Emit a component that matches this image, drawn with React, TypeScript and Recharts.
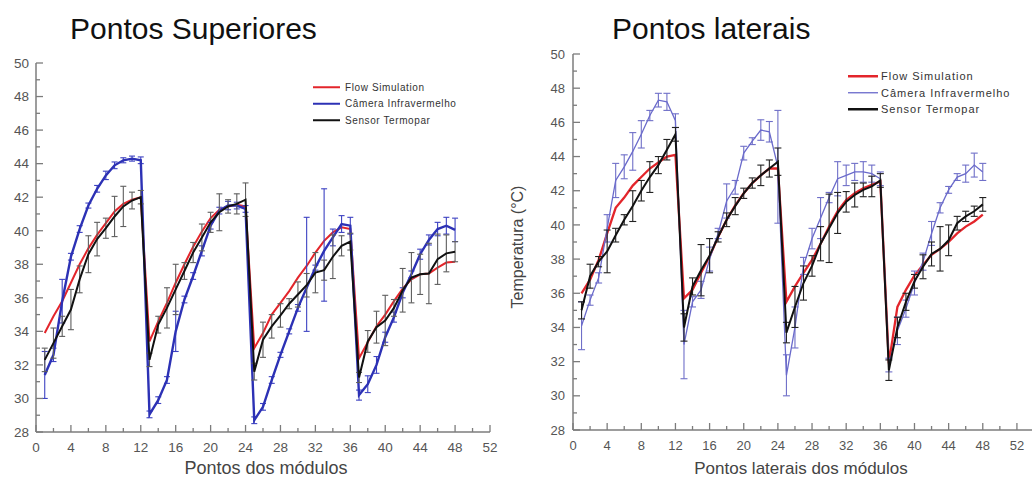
import { LineChart, Line, XAxis, YAxis, ErrorBar, Legend } from "recharts"

// pontos dos módulos (eixo x)
const pontos = [
  1, 2, 3, 4, 5, 6, 7, 8, 9, 10, 11, 12,
  13, 14, 15, 16, 17, 18, 19, 20, 21, 22, 23, 24,
  25, 26, 27, 28, 29, 30, 31, 32, 33, 34, 35, 36,
  37, 38, 39, 40, 41, 42, 43, 44, 45, 46, 47, 48,
]
const ticksX = [0, 2, 4, 6, 8, 10, 12, 14, 16, 18, 20, 22, 24, 26, 28, 30, 32, 34, 36, 38, 40, 42, 44, 46, 48, 50, 52]
const ticksY = [28, 29, 30, 31, 32, 33, 34, 35, 36, 37, 38, 39, 40, 41, 42, 43, 44, 45, 46, 47, 48, 49, 50]

// Pontos Superiores
const supFlow = [
  33.9, 34.9, 35.8, 36.9, 38.0, 38.95, 39.75, 40.45, 41.15, 41.6, 41.85, 42.0,
  33.4, 34.6, 35.7, 36.9, 38.0, 39.05, 39.95, 40.75, 41.25, 41.45, 41.55, 41.45,
  33.0, 33.9, 35.0, 35.7, 36.4, 37.2, 37.9, 38.7, 39.4, 39.9, 40.2, 40.1,
  32.4, 33.35, 34.3, 35.0, 35.8, 36.55, 37.1, 37.4, 37.45, 37.8, 38.1, 38.15,
]
const supCamera = [
  31.4, 32.6, 35.8, 38.45, 40.1, 41.5, 42.5, 43.3, 43.9, 44.2, 44.3, 44.2,
  29.05, 29.9, 31.1, 34.0, 35.9, 37.3, 38.8, 40.3, 41.2, 41.5, 41.5, 41.3,
  28.7, 29.5, 31.1, 32.6, 34.0, 35.4, 36.6, 37.8, 38.8, 39.6, 40.4, 40.3,
  30.2, 30.85, 32.0, 33.65, 34.85, 36.3, 37.4, 38.6, 39.45, 40.1, 40.3, 40.05,
]
const supCameraErr: (number | [number, number])[] = [
  1.4, 0.4, 1.3, 0.2, 0.2, 0.15, 0.2, 0.25, 0.2, 0.15, 0.15, 0.2,
  0.2, 0.2, 0.2, 1.2, 0.2, 0.2, 0.3, 0.2, 0.2, 0.25, 0.2, 0.2,
  0.2, 0.2, 0.2, 0.15, 0.15, 0.2, [2.6, 4.2], 0.15, [3.0, 3.7], 0.5, 0.5, 0.5,
  0.3, 0.5, 0.5, 0.3, 0.3, 0.3, 0.2, 0.3, 0.3, 0.4, 0.5, 0.7,
]
const supSensor = [
  32.3, 33.3, 34.3, 35.3, 37.1, 38.6, 39.5, 40.15, 40.85, 41.45, 41.8, 42.0,
  32.3, 34.4, 35.4, 36.5, 37.6, 38.7, 39.6, 40.5, 41.1, 41.45, 41.6, 41.85,
  31.6, 33.5, 34.3, 34.95, 35.65, 36.2, 36.75, 37.5, 37.65, 38.45, 39.1, 39.35,
  31.25, 33.4, 34.25, 34.65, 35.4, 36.45, 37.2, 37.4, 37.45, 38.3, 38.65, 38.75,
]
const supSensorErr = [
  0.7, 0.9, 0.6, 1.2, 0.8, 1.1, 1.0, 0.6, 1.2, 1.2, 0.5, 0.4,
  0.4, 0.5, 1.2, 1.5, 0.5, 0.6, 0.8, 0.6, 1.1, 0.4, 0.6, 1.0,
  0.5, 1.05, 0.7, 0.7, 0.3, 0.75, 0.7, 1.2, 0.6, 1.3, 0.6, 0.5,
  0.3, 0.65, 0.95, 1.5, 0.5, 1.3, 1.5, 1.2, 1.8, 1.5, 1.1, 0.6,
]

// Pontos laterais
const latFlow = [
  36.0, 36.8, 37.95, 39.5, 41.0, 41.6, 42.3, 42.8, 43.3, 43.65, 44.0, 44.1,
  35.7, 36.2, 37.2, 38.15, 39.3, 40.3, 41.15, 41.85, 42.45, 42.9, 43.3, 43.3,
  35.5, 36.4, 37.2, 37.95, 38.9, 39.9, 40.8, 41.45, 41.85, 42.15, 42.35, 42.55,
  31.9, 35.2, 36.2, 37.05, 37.65, 38.25, 38.6, 39.0, 39.5, 39.9, 40.2, 40.6,
]
const latCamera = [
  34.1, 35.6, 36.9, 39.8, 42.6, 43.4, 44.3, 45.3, 46.4, 47.3, 47.2, 46.1,
  33.0, 35.5, 36.2, 38.0, 39.5, 41.4, 42.2, 44.2, 44.9, 45.55, 45.45, 43.4,
  31.2, 34.0, 37.6, 39.2, 40.4, 41.6, 42.7, 42.9, 43.1, 43.1, 43.0, 42.7,
  31.8, 33.8, 35.1, 36.6, 37.85, 39.5, 41.0, 42.05, 42.8, 43.0, 43.5, 43.1,
]
const latCameraErr = [
  1.4, 0.3, 0.3, 0.8, 1.0, 0.7, 1.1, 0.8, 0.3, 0.4, 0.5, 0.4,
  2.0, 0.3, 0.5, 0.7, 0.3, 1.0, 0.4, 0.4, 0.2, 0.6, 0.6, 3.3,
  1.2, 1.2, 0.5, 0.6, 1.2, 0.3, 1.0, 0.6, 0.5, 0.6, 0.5, 0.4,
  0.4, 0.8, 0.5, 0.7, 0.5, 0.7, 0.3, 0.2, 0.2, 0.5, 0.7, 0.5,
]
const latSensor = [
  35.0, 37.0, 37.85, 38.45, 39.4, 40.3, 41.1, 42.0, 42.8, 43.5, 44.4, 45.3,
  34.0, 36.4, 37.35, 38.2, 39.3, 40.3, 41.1, 41.85, 42.45, 42.9, 43.3, 43.7,
  33.7, 35.2, 36.6, 37.6, 38.9, 39.8, 40.7, 41.35, 41.75, 42.05, 42.25, 42.6,
  31.5, 34.0, 35.5, 36.7, 37.55, 38.3, 38.6, 39.1, 40.1, 40.5, 40.8, 41.2,
]
const latSensorErr = [
  0.5, 0.7, 0.3, 1.25, 0.4, 0.3, 0.9, 0.6, 0.9, 0.5, 0.6, 0.4,
  0.8, 0.5, 1.5, 1.0, 0.3, 0.4, 0.5, 0.3, 0.3, 0.6, 0.5, 0.8,
  0.6, 1.2, 1.0, 0.6, 1.0, 2.0, 1.2, 0.6, 0.7, 0.4, 0.6, 0.4,
  0.6, 0.6, 0.5, 0.4, 0.7, 0.7, 1.3, 0.9, 0.4, 0.3, 0.3, 0.4,
]

const seriesNames = ["Flow Simulation", "Câmera Infravermelho", "Sensor Termopar"]

const AXIS = "#7c7c7c"
const FONT = '"Liberation Sans", Arial, sans-serif'

function buildRows(flow: number[], camera: number[], cameraErr: any[], sensor: number[], sensorErr: number[]) {
  return pontos.map((p, i) => ({
    ponto: p,
    flow: flow[i],
    camera: camera[i],
    cameraErr: cameraErr[i],
    sensor: sensor[i],
    sensorErr: sensorErr[i],
  }))
}

// ticks apontando para dentro do gráfico
function BottomTick({ x, y, payload, fontSize, dy }: any) {
  const major = payload.value % 4 === 0
  return (
    <g>
      <line x1={x} y1={y} x2={x} y2={y - (major ? 7 : 4)} stroke={AXIS} strokeWidth={1.3} />
      {major && (
        <text x={x} y={y + dy} textAnchor="middle" fontSize={fontSize} fill="#555" fontFamily={FONT}>
          {payload.value}
        </text>
      )}
    </g>
  )
}

function TopTick({ x, y, payload }: any) {
  const major = payload.value % 4 === 0
  return <line x1={x} y1={y} x2={x} y2={y + (major ? 7 : 4)} stroke={AXIS} strokeWidth={1.3} />
}

function LeftTick({ x, y, payload, fontSize, dx }: any) {
  const major = payload.value % 2 === 0
  return (
    <g>
      <line x1={x} y1={y} x2={x + (major ? 7 : 4)} y2={y} stroke={AXIS} strokeWidth={1.3} />
      {major && (
        <text x={x - dx} y={y} dy="0.36em" textAnchor="end" fontSize={fontSize} fill="#555" fontFamily={FONT}>
          {payload.value}
        </text>
      )}
    </g>
  )
}

function RightTick({ x, y, payload }: any) {
  const major = payload.value % 2 === 0
  return <line x1={x} y1={y} x2={x - (major ? 7 : 4)} y2={y} stroke={AXIS} strokeWidth={1.3} />
}

function LegendBox({ colors, widths, lineLen, gap, fontSize, spacing }: any) {
  const rowH = 16.5
  return (
    <svg width={200} height={rowH * 3} style={{ display: "block", overflow: "visible" }}>
      {seriesNames.map((name, i) => {
        const cy = rowH * i + rowH / 2
        return (
          <g key={name}>
            <line x1={0} x2={lineLen} y1={cy} y2={cy} stroke={colors[i]} strokeWidth={widths[i]} />
            <text x={lineLen + gap} y={cy} dy="0.36em" fontSize={fontSize} letterSpacing={spacing} fill="#333" fontFamily={FONT}>
              {name}
            </text>
          </g>
        )
      })}
    </svg>
  )
}

function Painel({ rows, style, width, height, margin, yWidth, xHeight, xMax, tickFont, xLabelDy, yLabelDx, colors, widths, errColors, capW, legend }: any) {
  return (
    <div style={{ position: "absolute", ...style }}>
      <LineChart width={width} height={height} data={rows} margin={margin}>
        <XAxis
          dataKey="ponto"
          type="number"
          domain={[0, xMax]}
          ticks={ticksX}
          interval={0}
          height={xHeight}
          tickSize={0}
          tickMargin={0}
          tickLine={false}
          axisLine={{ stroke: AXIS, strokeWidth: 1.5 }}
          tick={(p: any) => <BottomTick {...p} fontSize={tickFont} dy={xLabelDy} />}
          allowDataOverflow
        />
        <XAxis
          xAxisId="top"
          orientation="top"
          type="number"
          domain={[0, xMax]}
          ticks={ticksX}
          interval={0}
          height={0}
          tickSize={0}
          tickMargin={0}
          tickLine={false}
          axisLine={{ stroke: AXIS, strokeWidth: 1.5 }}
          tick={(p: any) => <TopTick {...p} />}
          allowDataOverflow
        />
        <YAxis
          type="number"
          domain={[28, 50]}
          ticks={ticksY}
          interval={0}
          width={yWidth}
          tickSize={0}
          tickMargin={0}
          tickLine={false}
          axisLine={{ stroke: AXIS, strokeWidth: 1.5 }}
          tick={(p: any) => <LeftTick {...p} fontSize={tickFont} dx={yLabelDx} />}
          allowDataOverflow
        />
        <YAxis
          yAxisId="right"
          orientation="right"
          type="number"
          domain={[28, 50]}
          ticks={ticksY}
          interval={0}
          width={0}
          tickSize={0}
          tickMargin={0}
          tickLine={false}
          axisLine={{ stroke: AXIS, strokeWidth: 1.5 }}
          tick={(p: any) => <RightTick {...p} />}
          allowDataOverflow
        />
        <Legend
          layout="vertical"
          align="center"
          verticalAlign="middle"
          wrapperStyle={{ left: legend.left, top: legend.top, width: 200 }}
          content={() => (
            <LegendBox colors={colors} widths={legend.widths} lineLen={legend.lineLen} gap={legend.gap} fontSize={legend.fontSize} spacing={legend.spacing} />
          )}
        />
        <Line dataKey="flow" name={seriesNames[0]} type="linear" stroke={colors[0]} strokeWidth={widths[0]} dot={false} isAnimationActive={false} />
        <Line dataKey="camera" name={seriesNames[1]} type="linear" stroke={colors[1]} strokeWidth={widths[1]} dot={false} isAnimationActive={false}>
          <ErrorBar dataKey="cameraErr" direction="y" width={capW} stroke={errColors[0]} strokeWidth={1.1} isAnimationActive={false} />
        </Line>
        <Line dataKey="sensor" name={seriesNames[2]} type="linear" stroke={colors[2]} strokeWidth={widths[2]} dot={false} isAnimationActive={false}>
          <ErrorBar dataKey="sensorErr" direction="y" width={capW} stroke={errColors[1]} strokeWidth={1.1} isAnimationActive={false} />
        </Line>
      </LineChart>
    </div>
  )
}

export default function App() {
  const supRows = buildRows(supFlow, supCamera, supCameraErr, supSensor, supSensorErr)
  const latRows = buildRows(latFlow, latCamera, latCameraErr, latSensor, latSensorErr)
  return (
    <div style={{ position: "absolute", left: 0, top: 0, width: 1032, height: 479, overflow: "hidden", background: "#fff", fontFamily: FONT }}>
      <Painel
        rows={supRows}
        style={{ left: 0, top: 0 }}
        width={500}
        height={479}
        margin={{ top: 63, right: 10, bottom: 0, left: 0 }}
        yWidth={36}
        xHeight={47}
        xMax={52}
        tickFont={13.5}
        xLabelDy={20}
        yLabelDx={7}
        colors={["#e3252b", "#2c31b5", "#111111"]}
        widths={[2, 2.4, 2]}
        errColors={["#3d42c2", "#5e5e5e"]}
        capW={3}
        legend={{ left: 313, top: 79, lineLen: 27, gap: 5, fontSize: 10, spacing: 0.6, widths: [2, 2, 2] }}
      />
      <Painel
        rows={latRows}
        style={{ left: 500, top: 0 }}
        width={540}
        height={479}
        margin={{ top: 54, right: 6, bottom: 0, left: 0 }}
        yWidth={73}
        xHeight={49}
        xMax={54}
        tickFont={13}
        xLabelDy={20}
        yLabelDx={8}
        colors={["#e3252b", "#6a6acb", "#111111"]}
        widths={[2.3, 1.3, 2]}
        errColors={["#6f6fc8", "#222222"]}
        capW={3.5}
        legend={{ left: 348, top: 68, lineLen: 30, gap: 3, fontSize: 11, spacing: 1, widths: [2.5, 1.3, 2.5] }}
      />
      <svg width={1032} height={479} style={{ position: "absolute", left: 0, top: 0, pointerEvents: "none" }}>
        <text x={70} y={39} fontSize={30} fill="#111" fontFamily={FONT}>Pontos Superiores</text>
        <text x={612} y={39} fontSize={30} fill="#111" fontFamily={FONT}>Pontos laterais</text>
        <text x={266} y={474} fontSize={18} fill="#444" textAnchor="middle" fontFamily={FONT}>Pontos dos módulos</text>
        <text x={801} y={474} fontSize={17} fill="#444" textAnchor="middle" fontFamily={FONT}>Pontos laterais dos módulos</text>
        <text x={523} y={247} fontSize={16} fill="#444" textAnchor="middle" fontFamily={FONT} transform="rotate(-90 523 247)">Temperatura (°C)</text>
      </svg>
    </div>
  )
}
